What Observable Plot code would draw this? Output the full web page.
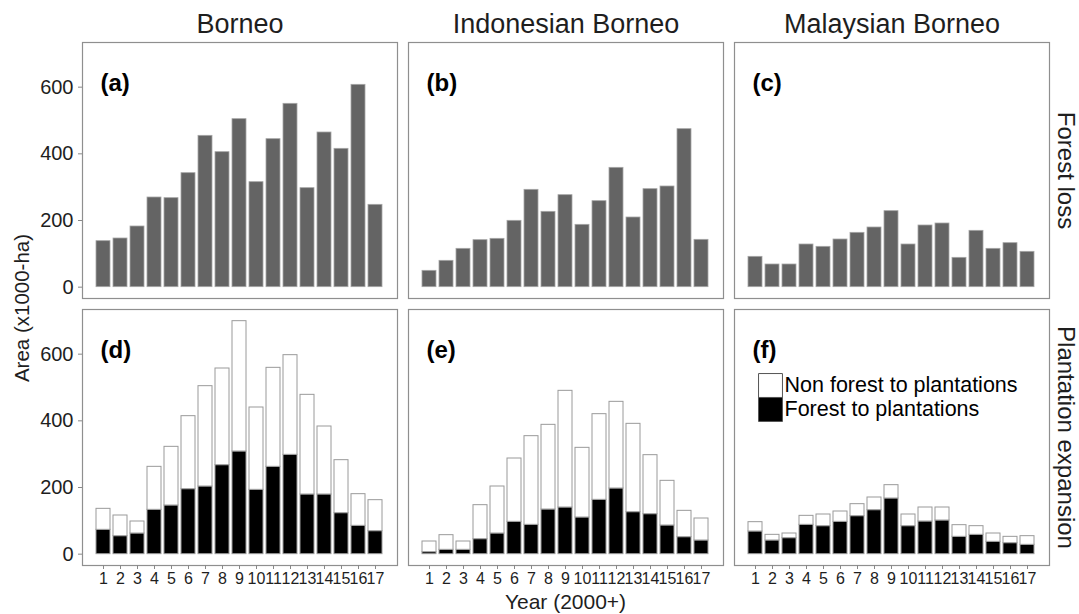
<!DOCTYPE html>
<html>
<head>
<meta charset="utf-8">
<script src="https://cdn.jsdelivr.net/npm/d3@7"></script>
<script src="https://cdn.jsdelivr.net/npm/@observablehq/plot@0.6"></script>
<style>
  html, body { margin: 0; padding: 0; background: #fff; }
  #chart { position: relative; width: 1079px; height: 614px; font-family: "Liberation Sans", Arial, sans-serif; }
</style>
</head>
<body>
<div id="chart"></div>
<script>
// ---- data ----
const years = [1, 2, 3, 4, 5, 6, 7, 8, 9, 10, 11, 12, 13, 14, 15, 16, 17];
const regions = ["Borneo", "Indonesian Borneo", "Malaysian Borneo"];
const rows = ["Forest loss", "Plantation expansion"];
const panelLabels = ["(a)", "(b)", "(c)", "(d)", "(e)", "(f)"];
const legendLabels = ["Non forest to plantations", "Forest to plantations"];

// Forest loss (x1000 ha)
const lossBorneo = [138, 146, 182, 269, 267, 342, 454, 405, 504, 315, 444, 550, 297, 464, 415, 607, 247];
const lossIndonesian = [49, 79, 115, 141, 145, 199, 292, 226, 276, 187, 258, 358, 209, 294, 302, 474, 142];
const lossMalaysian = [91, 68, 68, 128, 121, 143, 163, 179, 228, 128, 185, 191, 88, 169, 115, 132, 106];

// Plantation expansion (x1000 ha): forest -> plantations, non forest -> plantations
const forestPlantBorneo = [73, 54, 62, 133, 146, 195, 203, 267, 308, 193, 262, 298, 179, 179, 123, 85, 69];
const nonForestPlantBorneo = [63, 62, 36, 129, 176, 219, 301, 290, 391, 247, 297, 299, 299, 204, 159, 95, 93];
const forestPlantIndonesian = [6, 13, 13, 45, 62, 97, 88, 134, 140, 110, 163, 197, 126, 120, 86, 51, 41];
const nonForestPlantIndonesian = [32, 44, 25, 102, 141, 190, 266, 254, 350, 209, 257, 260, 265, 177, 134, 79, 66];
const forestPlantMalaysian = [68, 41, 48, 88, 84, 97, 114, 132, 167, 84, 98, 101, 52, 58, 37, 33, 28];
const nonForestPlantMalaysian = [28, 17, 14, 27, 35, 31, 36, 38, 40, 35, 42, 39, 35, 26, 25, 19, 26];

const yTicks = [0, 200, 400, 600];

// ---- tables ----
const lossSeries = [lossBorneo, lossIndonesian, lossMalaysian];
const lossData = [];
regions.forEach((r, i) => years.forEach((y, j) => lossData.push({region: r, row: rows[0], year: y, value: lossSeries[i][j]})));

const forestSeries = [forestPlantBorneo, forestPlantIndonesian, forestPlantMalaysian];
const nonForestSeries = [nonForestPlantBorneo, nonForestPlantIndonesian, nonForestPlantMalaysian];
const plantData = [];
regions.forEach((r, i) => years.forEach((y, j) => plantData.push({region: r, row: rows[1], year: y, type: legendLabels[1], value: forestSeries[i][j]})));
regions.forEach((r, i) => years.forEach((y, j) => plantData.push({region: r, row: rows[1], year: y, type: legendLabels[0], value: nonForestSeries[i][j]})));

const labelData = panelLabels.map((t, k) => ({label: t, region: regions[k % 3], row: rows[Math.floor(k / 3)]}));
const legendData = legendLabels.map((t, k) => ({label: t, region: regions[2], row: rows[1]}));

const font = "'Liberation Sans', Arial, sans-serif";

const chart = Plot.plot({
  width: 1079,
  height: 614,
  marginLeft: 82,
  marginRight: 30,
  marginTop: 42,
  marginBottom: 49,
  style: {fontFamily: font, fontSize: "16px", background: "white", color: "#1e1e1e"},
  fx: {axis: null, domain: regions, paddingInner: 0.034, paddingOuter: 0},
  fy: {axis: null, domain: rows, paddingInner: 0.043, paddingOuter: 0},
  x: {type: "band", domain: years, paddingInner: 0.17, paddingOuter: 0.56, axis: null},
  y: {domain: [-34, 734], axis: null},
  color: {domain: legendLabels, range: ["white", "black"]},
  marks: [
    Plot.barY(lossData, {x: "year", y: "value", fx: "region", fy: "row", fill: "#646464", stroke: "#a6a6a6", strokeWidth: 0.8}),
    Plot.barY(plantData, Plot.stackY({x: "year", y: "value", fx: "region", fy: "row", z: "type", fill: "type", stroke: "#9a9a9a", strokeWidth: 1, order: null})),
    Plot.frame({stroke: "#8f8f8f", strokeWidth: 1.2}),
    Plot.axisY(yTicks, {anchor: "left", tickSize: 4, tickPadding: 5, fontSize: 20, label: null, stroke: "#888", fill: "#1e1e1e", tickFormat: d => String(d)}),
    Plot.axisX(years, {anchor: "bottom", tickSize: 4, tickPadding: 3, fontSize: 16, label: null, stroke: "#888", fill: "#1e1e1e"}),
    // column titles
    Plot.text(regions, {fx: d => d, fy: () => rows[0], text: d => d, frameAnchor: "top", dy: -10, lineAnchor: "bottom", fontSize: 27, fill: "#1e1e1e"}),
    // row titles
    Plot.text(rows, {fy: d => d, fx: () => regions[2], text: d => d, frameAnchor: "right", dx: 16, rotate: 90, textAnchor: "middle", lineAnchor: "middle", fontSize: 24, fill: "#1e1e1e"}),
    // panel labels
    Plot.text(labelData, {fx: "region", fy: "row", text: "label", frameAnchor: "top-left", dx: 18, dy: 41, textAnchor: "start", lineAnchor: "middle", fontSize: 24, fontWeight: "bold", fill: "#000"}),
    // legend (panel f)
    Plot.dot(legendData.slice(0, 1), {fx: "region", fy: "row", frameAnchor: "top-left", dx: 36, dy: 76, symbol: "square", r: 13.5, fill: "white", stroke: "#555", strokeWidth: 1}),
    Plot.dot(legendData.slice(1, 2), {fx: "region", fy: "row", frameAnchor: "top-left", dx: 36, dy: 100, symbol: "square", r: 13.5, fill: "black", stroke: "#555", strokeWidth: 1}),
    Plot.text(legendData.slice(0, 1), {fx: "region", fy: "row", text: "label", frameAnchor: "top-left", dx: 50, dy: 76, textAnchor: "start", lineAnchor: "middle", fontSize: 21.5, fill: "#000"}),
    Plot.text(legendData.slice(1, 2), {fx: "region", fy: "row", text: "label", frameAnchor: "top-left", dx: 50, dy: 100, textAnchor: "start", lineAnchor: "middle", fontSize: 21.5, fill: "#000"})
  ]
});

const svg = d3.select(chart);
svg.append("text")
  .attr("transform", "translate(21,308) rotate(-90)")
  .attr("text-anchor", "middle")
  .attr("dominant-baseline", "central")
  .attr("font-family", font)
  .attr("font-size", 20.5)
  .attr("fill", "#1e1e1e")
  .text("Area (x1000-ha)");
svg.append("text")
  .attr("x", 565.5)
  .attr("y", 601)
  .attr("text-anchor", "middle")
  .attr("dominant-baseline", "central")
  .attr("font-family", font)
  .attr("font-size", 21)
  .attr("fill", "#1e1e1e")
  .text("Year (2000+)");

document.getElementById("chart").appendChild(chart);
</script>
</body>
</html>
